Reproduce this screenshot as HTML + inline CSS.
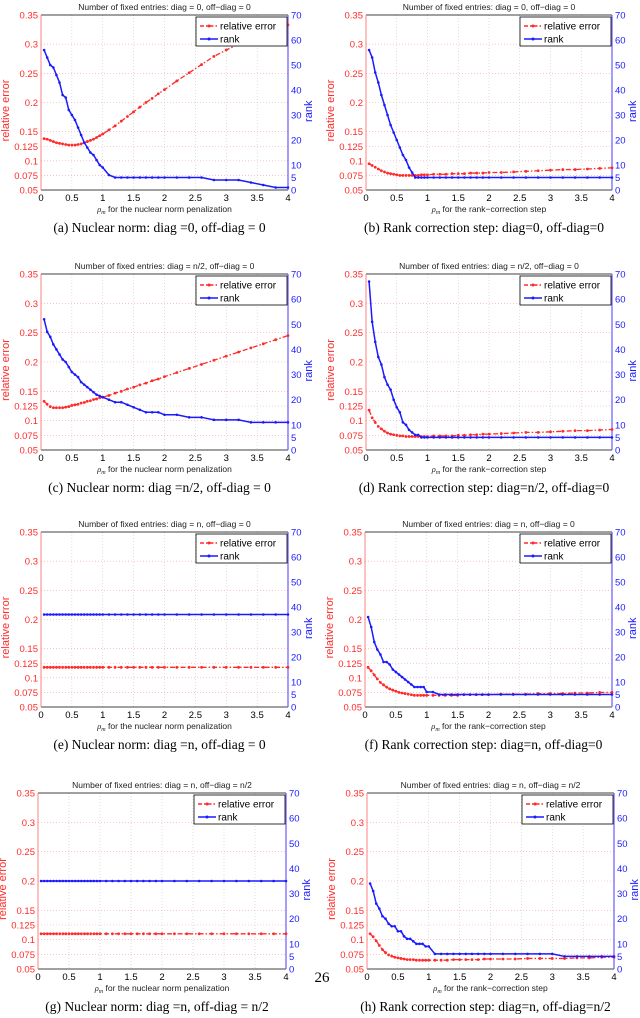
<!DOCTYPE html>
<html><head><meta charset="utf-8"><style>
body{margin:0;background:#fff;width:640px;height:1018px;overflow:hidden}
svg{display:block}
</style></head><body>
<svg id="fig" width="640" height="1018" xmlns="http://www.w3.org/2000/svg"></svg>
<script>
const xs = [0.05,0.1,0.15,0.2,0.25,0.3,0.35,0.4,0.45,0.5,0.55,0.6,0.65,0.7,0.75,0.8,0.85,0.9,0.95,1.0,1.1,1.2,1.3,1.4,1.5,1.6,1.7,1.8,1.9,2.0,2.2,2.4,2.6,2.8,3.0,3.2,3.4,3.6,3.8,4.0];
const errA = [.138,.137,.135,.133,.131,.13,.129,.128,.127,.127,.127,.128,.129,.131,.133,.135,.137,.14,.143,.146,.153,.16,.168,.176,.184,.192,.2,.207,.215,.222,.237,.251,.265,.279,.29,.3,.308,.316,.325,.333];
const rankA = [56,53,50,49,46,43,38,37,32,30,28,25,22,19,17,15,14,12,10,9,6,5,5,5,5,5,5,5,5,5,5,5,5,4,4,4,3,2,1,1];
const errB = [.095,.092,.089,.086,.083,.081,.079,.078,.077,.076,.075,.075,.075,.075,.075,.075,.075,.076,.076,.076,.077,.077,.077,.078,.078,.078,.079,.079,.079,.08,.08,.081,.082,.083,.084,.085,.085,.086,.087,.088];
const rankB = [56,53,47,43,38,34,30,26,23,20,17,14,12,9,7,5,5,5,5,5,5,5,5,5,5,5,5,5,5,5,5,5,5,5,5,5,5,5,5,5];
const errC = [.133,.128,.124,.122,.122,.122,.122,.123,.124,.126,.127,.128,.13,.131,.133,.134,.136,.137,.139,.14,.143,.147,.15,.154,.157,.161,.164,.168,.171,.175,.182,.189,.196,.203,.21,.217,.224,.231,.238,.245];
const rankC = [52,47,45,42,40,38,36,35,33,31,30,29,27,26,25,24,23,22,21.5,21,20,19,19,18,17,16,15,15,15,14,14,13,13,12,12,12,11,11,11,11];
const errD = [.118,.105,.097,.09,.086,.082,.079,.077,.076,.075,.074,.074,.073,.073,.073,.073,.073,.073,.073,.073,.074,.074,.074,.074,.075,.075,.076,.076,.077,.077,.078,.079,.08,.08,.081,.082,.083,.083,.084,.085];
const rankD = [67,51,43,37,34,29,26,24,20,17,15,11,10,8,7,6,6,5,5,5,5,5,5,5,5,5,5,5,5,5,5,5,5,5,5,5,5,5,5,5];
const errE = xs.map(()=>0.118);
const rankE = xs.map(()=>37);
const errF = [.118,.112,.105,.098,.092,.088,.084,.081,.079,.077,.075,.074,.073,.072,.071,.07,.07,.07,.07,.07,.07,.07,.07,.07,.07,.071,.071,.071,.071,.071,.072,.072,.072,.073,.073,.073,.074,.074,.075,.075];
const rankF = [36,32,26,23,21,18,18,17,15,14,13,12,11,10,9,8,8,8,8,6,6,5,5,5,5,5,5,5,5,5,5,5,5,5,5,5,5,5,5,5];
const errG = xs.map(()=>0.11);
const rankG = xs.map(()=>35);
const errH = [.11,.105,.098,.09,.083,.078,.074,.072,.07,.069,.068,.067,.066,.066,.066,.065,.065,.065,.065,.065,.065,.065,.065,.066,.066,.066,.066,.066,.067,.067,.067,.067,.068,.068,.068,.068,.069,.069,.07,.07];
const rankH = [34,31,26,24,21,20,18,17,17,15,15,13,12,12,11,10,10,10,9,9,6,6,6,6,6,6,6,6,6,6,6,6,6,6,6,5,5,5,5,5];

const leftTicks = [0.05,0.075,0.1,0.125,0.15,0.2,0.25,0.3,0.35];
const rightTicks = [0,5,10,20,30,40,50,60,70];
const xTicks = [0,0.5,1,1.5,2,2.5,3,3.5,4];

const panels = [
 {id:'a',x0:41,x1:288,y0:15,y1:190,title:'Number of fixed entries: diag = 0, off\u2212diag = 0',xl:'for the nuclear norm penalization',cap:'(a) Nuclear norm: diag =0, off-diag = 0',err:errA,rank:rankA},
 {id:'b',x0:366,x1:612,y0:15,y1:190,title:'Number of fixed entries: diag = 0, off\u2212diag = 0',xl:'for the rank\u2212correction step',cap:'(b) Rank correction step: diag=0, off-diag=0',err:errB,rank:rankB},
 {id:'c',x0:41,x1:288,y0:274,y1:450,title:'Number of fixed entries: diag = n/2, off\u2212diag = 0',xl:'for the nuclear norm penalization',cap:'(c) Nuclear norm: diag =n/2, off-diag = 0',err:errC,rank:rankC},
 {id:'d',x0:366,x1:612,y0:274,y1:450,title:'Number of fixed entries: diag = n/2, off\u2212diag = 0',xl:'for the rank\u2212correction step',cap:'(d) Rank correction step: diag=n/2, off-diag=0',err:errD,rank:rankD},
 {id:'e',x0:41,x1:288,y0:532,y1:707,title:'Number of fixed entries: diag = n, off\u2212diag = 0',xl:'for the nuclear norm penalization',cap:'(e) Nuclear norm: diag =n, off-diag = 0',err:errE,rank:rankE},
 {id:'f',x0:365,x1:612,y0:532,y1:707,title:'Number of fixed entries: diag = n, off\u2212diag = 0',xl:'for the rank\u2212correction step',cap:'(f) Rank correction step: diag=n, off-diag=0',err:errF,rank:rankF},
 {id:'g',x0:38,x1:286,y0:793,y1:969,title:'Number of fixed entries: diag = n, off\u2212diag = n/2',xl:'for the nuclear norm penalization',cap:'(g) Nuclear norm: diag =n, off-diag = n/2',err:errG,rank:rankG},
 {id:'h',x0:367,x1:614,y0:793,y1:969,title:'Number of fixed entries: diag = n, off\u2212diag = n/2',xl:'for the rank\u2212correction step',cap:'(h) Rank correction step: diag=n, off-diag=n/2',err:errH,rank:rankH}
];
const NS='http://www.w3.org/2000/svg';
const svg=document.getElementById('fig');
function mk(tag,attrs,parent,txt){const e=document.createElementNS(NS,tag);for(const k in attrs)e.setAttribute(k,attrs[k]);if(txt!==undefined)e.textContent=txt;(parent||svg).appendChild(e);return e;}
const SANS='"Liberation Sans", sans-serif', SERIF='"Liberation Serif", serif';
const RED='#ff2a2a', BLUE='#1a1aff';

panels.forEach(p=>{
 const g=mk('g',{});
 
 
 const sx=v=>p.x0+(v/4)*(p.x1-p.x0);
 const sy=v=>p.y1-(v-0.05)/0.3*(p.y1-p.y0);
 const sr=v=>p.y1-(v/70)*(p.y1-p.y0);
 xTicks.forEach(t=>{ if(t>0&&t<4){const l=mk('line',{x1:sx(t),x2:sx(t),y1:p.y0,y2:p.y1,stroke:'#c8c8c8','stroke-width':0.6,'stroke-dasharray':'1,2'},g);
  
  }});
 leftTicks.forEach(t=>{ if(t>0.05&&t<0.35){const l=mk('line',{x1:p.x0,x2:p.x1,y1:sy(t),y2:sy(t),stroke:'#f0a0a0','stroke-width':0.6,'stroke-dasharray':'1,2'},g);
  
  }});
 mk('line',{x1:p.x0,x2:p.x1,y1:p.y1,y2:p.y1,stroke:'#000','stroke-width':0.8},g);
 mk('line',{x1:p.x0,x2:p.x1,y1:p.y0,y2:p.y0,stroke:'#000','stroke-width':0.8},g);
 mk('line',{x1:p.x0,x2:p.x0,y1:p.y0,y2:p.y1,stroke:'#ff8080','stroke-width':1},g);
 mk('line',{x1:p.x1,x2:p.x1,y1:p.y0,y2:p.y1,stroke:'#6a5aff','stroke-width':1.2},g);
 xTicks.forEach(t=>{const tx=mk('text',{x:sx(t),y:p.y1+11,'font-family':SANS,'font-size':9.5,'text-anchor':'middle',fill:'#000'},g,String(t));
  
  });
 leftTicks.forEach(t=>{const tx=mk('text',{x:p.x0-3,y:sy(t)+3.5,'font-family':SANS,'font-size':9.5,'text-anchor':'end',fill:RED},g,String(t));
  
  });
 rightTicks.forEach(t=>{const tx=mk('text',{x:p.x1+3,y:sr(t)+3.5,'font-family':SANS,'font-size':9.5,'text-anchor':'start',fill:BLUE},g,String(t));
  
  });
 const tt=mk('text',{x:(p.x0+p.x1)/2,y:p.y0-5,'font-family':SANS,'font-size':8.5,'text-anchor':'middle',fill:'#222'},g,p.title);
 
 
 const xl=mk('text',{x:(p.x0+p.x1)/2,y:p.y1+22,'font-family':SANS,'font-size':8.5,'text-anchor':'middle',fill:'#222'},g);
 
 
 mk('tspan',{'font-family':SERIF,'font-style':'italic'},xl,'\u03c1');
 mk('tspan',{'font-size':6,dy:2,'font-family':SERIF,'font-style':'italic'},xl,'m');
 mk('tspan',{dy:-2},xl,'  '+p.xl);
 const yl=mk('text',{x:0,y:0,transform:`translate(${p.x0-32},${(p.y0+p.y1)/2+8}) rotate(-90)`,'font-family':SANS,'font-size':11,'text-anchor':'middle',fill:RED},g,'relative error');
 
 
 const yr=mk('text',{x:0,y:0,transform:`translate(${p.x1+24},${p.y0+(p.y1-p.y0)*0.55}) rotate(-90)`,'font-family':SANS,'font-size':11,'text-anchor':'middle',fill:BLUE},g,'rank');
 
 
 const cap=mk('text',{x:(p.x0+p.x1)/2-5,y:p.y1+42,'font-family':SERIF,'font-size':13.5,'text-anchor':'middle',fill:'#000'},g,p.cap);
 
 
 const ep=mk('polyline',{points:xs.map((x,i)=>sx(x)+','+sy(p.err[i])).join(' '),fill:'none',stroke:RED,'stroke-width':1.3,'stroke-dasharray':'5,2,1.5,2'},g);
 
 
 xs.forEach((x,i)=>{const c=mk('circle',{cx:sx(x),cy:sy(p.err[i]),r:1.4,fill:RED},g);
  
  });
 const rp=mk('polyline',{points:xs.map((x,i)=>sx(x)+','+sr(p.rank[i])).join(' '),fill:'none',stroke:BLUE,'stroke-width':1.5},g);
 
 
 xs.forEach((x,i)=>{const c=mk('circle',{cx:sx(x),cy:sr(p.rank[i]),r:1.3,fill:BLUE},g);
  
  });
 const lx=p.x1-92, ly=p.y0+2;
 const lg=mk('g',{},g);
 
 
 mk('rect',{x:lx,y:ly,width:91,height:29,fill:'#fff',stroke:'#000','stroke-width':0.8},lg);
 mk('line',{x1:lx+4,x2:lx+22,y1:ly+9,y2:ly+9,stroke:RED,'stroke-width':1.5,'stroke-dasharray':'4,2,1.5,2'},lg);
 mk('circle',{cx:lx+13,cy:ly+9,r:1.5,fill:RED},lg);
 const le1=mk('text',{x:lx+24,y:ly+12.5,'font-family':SANS,'font-size':10,fill:'#000'},lg,'relative error');
 
 
 mk('line',{x1:lx+4,x2:lx+22,y1:ly+22,y2:ly+22,stroke:BLUE,'stroke-width':1.6},lg);
 mk('circle',{cx:lx+13,cy:ly+22,r:1.5,fill:BLUE},lg);
 const le2=mk('text',{x:lx+24,y:ly+25.5,'font-family':SANS,'font-size':10,fill:'#000'},lg,'rank');
 
 
});
const pn=mk('text',{x:322,y:982,'font-family':SERIF,'font-size':15,'text-anchor':'middle',fill:'#000'},svg,'26');


</script>
</body></html>
